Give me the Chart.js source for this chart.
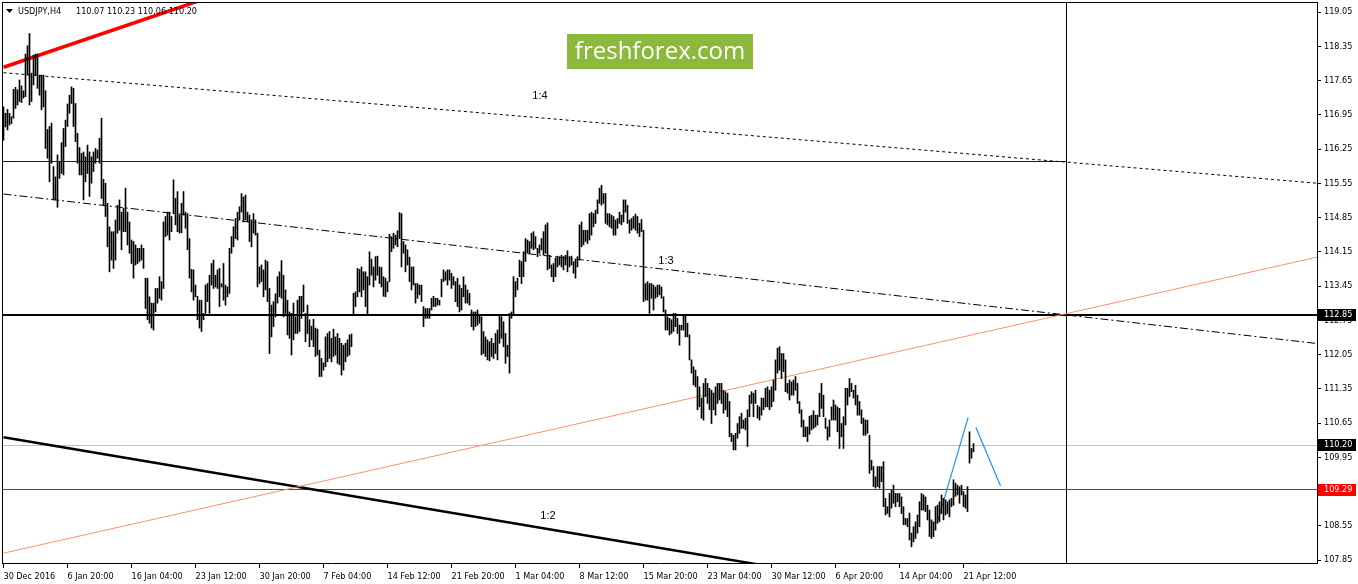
<!DOCTYPE html>
<html>
<head>
<meta charset="utf-8">
<script src="https://cdn.jsdelivr.net/npm/chart.js@4.4.1/dist/chart.umd.min.js"></script>
<style>
html,body{margin:0;padding:0;background:#fff;overflow:hidden;}
canvas{display:block;}
</style>
</head>
<body>
<canvas id="c" width="1358" height="584"></canvas>
<script>
// ---------- DATA ----------
const symbolTitle = 'USDJPY,H4';
const lastOHLC = ['110.07', '110.23', '110.06', '110.20'];

const highs = [
117.11,116.98,117.06,116.98,116.91,117.47,117.51,117.46,117.66,117.54,
117.44,118.19,118.36,118.61,117.80,118.17,118.19,118.19,117.76,117.76,
117.76,117.44,116.65,116.71,116.78,115.89,115.68,116.13,115.99,116.38,
116.67,116.84,117.17,117.35,117.52,117.49,117.18,116.57,116.28,116.16,
116.19,116.09,116.33,116.19,116.09,116.19,116.26,116.23,116.47,116.88,
115.63,115.55,115.14,114.66,114.56,114.56,114.80,115.10,115.21,114.96,
115.04,115.45,114.96,114.76,114.39,114.36,114.29,114.22,114.22,114.29,
114.22,113.61,113.61,113.23,113.10,113.10,113.40,113.40,113.64,113.54,
114.76,114.87,114.96,114.96,114.87,115.62,115.24,115.38,114.90,115.14,
115.38,114.96,114.93,114.42,113.79,113.78,113.47,113.24,113.16,113.16,
112.89,113.47,113.50,113.67,113.91,113.98,113.67,113.78,113.81,113.50,
113.91,113.47,113.43,114.22,114.46,114.66,114.83,114.96,115.07,115.34,
115.27,115.31,114.96,114.90,114.80,114.93,114.80,114.53,113.84,113.88,
113.78,113.98,113.95,113.40,113.06,113.13,113.29,113.64,113.74,113.97,
113.67,113.37,113.16,112.92,112.89,113.10,112.82,113.16,113.24,113.24,
113.47,112.89,113.06,112.76,112.63,112.77,112.59,112.57,112.14,111.97,
111.88,112.41,112.48,112.52,112.38,112.57,112.41,112.48,112.38,112.28,
112.24,112.28,112.35,112.45,112.47,113.30,113.33,113.81,113.79,113.84,
113.74,113.74,113.64,114.15,114.00,113.84,114.05,114.06,113.84,113.83,
113.64,113.61,113.54,114.51,114.46,114.53,114.49,114.58,114.95,114.93,
114.36,114.29,114.19,114.04,113.84,113.84,113.50,113.50,113.47,113.47,
113.03,112.99,112.99,112.99,113.20,113.24,113.20,113.20,113.16,113.59,
113.78,113.74,113.78,113.78,113.71,113.64,113.54,113.61,113.47,113.40,
113.64,113.47,113.37,113.30,112.96,112.92,112.92,112.96,112.86,112.82,
112.52,112.41,112.35,112.31,112.38,112.28,112.48,112.55,112.86,112.82,
112.72,112.48,112.24,112.89,112.92,113.64,113.54,113.61,113.98,113.95,
114.15,114.42,114.39,114.36,114.53,114.56,114.46,114.22,114.29,114.42,
114.56,114.70,114.74,114.08,113.88,113.91,114.02,114.06,114.05,114.08,
114.05,114.08,114.17,114.05,114.06,113.95,114.00,114.05,114.70,114.76,
114.59,114.59,114.59,114.93,114.96,114.93,115.00,115.21,115.45,115.51,
115.34,115.34,114.93,114.93,114.90,114.87,114.80,114.83,114.96,114.90,
115.21,115.21,115.10,114.80,114.83,114.87,114.92,114.87,114.73,114.81,
114.59,113.50,113.54,113.50,113.50,113.47,113.43,113.47,113.47,113.43,
113.23,112.96,112.82,112.79,112.76,112.89,112.89,112.79,112.65,112.65,
112.86,112.86,112.69,112.45,111.94,111.80,111.73,111.60,111.39,111.16,
111.46,111.56,111.46,111.36,111.32,111.26,111.39,111.46,111.46,111.46,
111.32,111.29,111.26,111.09,110.44,110.40,110.44,110.64,110.78,110.85,
110.71,110.75,110.92,111.22,111.29,111.26,111.32,111.01,110.98,111.16,
111.16,111.36,111.39,111.32,111.39,111.53,111.94,112.18,112.21,112.07,
112.07,111.94,111.46,111.53,111.49,111.53,111.60,111.46,111.09,110.92,
110.71,110.57,110.57,110.79,110.81,110.90,110.81,110.81,111.26,111.46,
111.22,110.75,110.57,110.71,110.98,111.12,111.02,110.98,110.95,110.64,
110.78,111.36,111.36,111.56,111.46,111.32,111.42,111.22,111.09,110.92,
110.75,110.71,110.71,110.40,109.89,109.76,109.55,109.76,109.76,109.76,
109.86,109.11,108.94,109.21,109.28,109.38,109.21,109.21,109.21,109.14,
108.94,108.70,108.70,108.81,108.40,108.53,108.63,108.77,109.04,109.21,
109.18,109.14,108.97,108.87,108.67,108.63,108.94,108.97,109.04,109.18,
109.11,109.08,109.04,109.08,109.11,109.49,109.42,109.38,109.35,109.38,
109.25,109.18,109.35,110.47,110.13,110.23
];

const lows = [
116.43,116.70,116.64,116.74,116.77,116.88,117.08,117.15,117.22,117.20,
117.29,117.32,117.76,117.15,117.22,117.56,117.76,117.49,117.35,117.05,
117.11,116.26,116.06,115.58,115.96,115.21,115.21,115.06,115.65,115.75,
115.72,116.30,116.71,116.98,117.18,116.71,116.40,115.96,115.72,115.72,
115.21,115.58,115.75,115.28,115.55,115.79,115.96,116.06,115.96,115.24,
115.11,114.87,114.25,113.74,113.98,113.81,113.98,114.53,114.59,114.19,
114.56,114.56,114.29,114.12,113.91,113.61,113.88,113.91,113.95,113.98,
113.81,112.99,112.76,112.69,112.59,112.55,112.92,113.10,113.20,113.16,
113.40,114.46,114.49,114.39,114.56,114.93,114.70,114.56,114.53,114.54,
114.90,114.63,114.19,113.61,113.33,113.16,113.23,112.76,112.59,112.52,
112.76,112.89,113.13,112.89,113.47,113.40,113.43,113.40,113.03,113.43,
113.16,113.06,113.23,113.30,114.12,114.25,114.42,114.39,114.80,114.96,
114.76,114.80,114.76,114.36,114.25,114.53,114.49,113.43,113.50,113.54,
113.23,113.37,113.13,112.07,112.41,112.62,112.82,113.10,113.23,113.20,
112.82,112.89,112.45,112.38,112.04,112.35,112.48,112.48,112.52,112.79,
112.92,112.31,112.48,112.21,112.35,112.21,112.01,112.04,111.60,111.60,
111.73,111.80,111.90,111.97,111.90,112.01,112.04,111.87,111.84,111.63,
111.73,111.90,112.01,112.04,112.21,112.86,113.03,113.23,113.33,113.23,
113.37,113.03,112.86,113.47,113.67,113.43,113.57,113.67,113.50,113.43,
113.24,113.23,113.33,113.54,114.15,114.22,114.29,114.25,114.42,113.84,
114.12,113.74,113.88,113.54,113.37,113.47,113.10,113.20,113.27,113.13,
112.62,112.79,112.79,112.79,112.96,113.03,113.03,113.06,113.06,113.23,
113.54,113.57,113.47,113.57,113.40,113.47,113.13,113.03,112.92,112.96,
113.23,113.10,113.10,113.06,112.62,112.55,112.62,112.65,112.69,112.04,
112.07,112.01,111.94,111.92,112.01,111.97,112.07,111.94,112.28,112.38,
112.21,111.87,112.01,111.67,112.79,112.86,113.23,113.37,113.64,113.50,
113.64,113.95,114.12,114.12,114.22,114.19,114.22,114.05,114.12,114.19,
114.08,114.12,113.78,113.81,113.64,113.54,113.64,113.84,113.88,113.84,
113.78,113.88,113.74,113.84,113.88,113.71,113.61,113.84,113.98,114.25,
114.29,114.36,114.32,114.39,114.49,114.66,114.73,114.93,115.14,115.10,
115.14,114.73,114.70,114.66,114.63,114.49,114.49,114.63,114.73,114.70,
114.76,114.96,114.73,114.53,114.59,114.63,114.59,114.53,114.46,114.56,
113.13,113.16,113.16,112.89,113.20,112.96,113.20,113.23,113.27,113.20,
112.92,112.55,112.55,112.45,112.48,112.52,112.62,112.48,112.24,112.55,
112.55,112.41,112.41,111.94,111.67,111.43,111.39,110.92,110.98,110.75,
110.71,111.19,111.05,110.92,110.64,110.92,110.81,111.05,111.12,111.05,
110.85,110.92,110.78,110.37,110.27,110.10,110.10,110.34,110.44,110.54,
110.54,110.51,110.17,110.78,111.05,110.78,111.05,110.75,110.71,110.81,
110.92,110.98,110.98,110.92,110.98,111.09,111.32,111.67,111.73,111.56,
111.70,111.29,111.26,111.12,111.22,111.22,111.32,111.05,110.85,110.57,
110.37,110.37,110.27,110.42,110.51,110.54,110.57,110.61,110.78,110.95,
110.78,110.54,110.30,110.37,110.71,110.71,110.71,110.47,110.13,110.37,
110.13,110.61,111.02,111.19,111.29,111.16,111.02,110.81,110.81,110.64,
110.40,110.40,110.44,109.62,109.69,109.35,109.32,109.35,109.32,109.45,
108.94,108.77,108.80,108.73,108.91,109.01,108.94,109.04,108.94,108.80,
108.57,108.57,108.53,108.26,108.12,108.22,108.29,108.40,108.53,108.87,
108.87,108.84,108.67,108.33,108.29,108.33,108.46,108.60,108.63,108.80,
108.67,108.77,108.80,108.73,108.94,108.97,109.15,109.18,109.01,109.18,
108.94,108.91,108.84,109.83,109.93,110.06
];

const tickBars = [0,32,64,96,128,160,192,224,256,288,320,352,384,416,448,480];
const tickLabels = ['30 Dec 2016','6 Jan 20:00','16 Jan 04:00','23 Jan 12:00','30 Jan 20:00',
  '7 Feb 04:00','14 Feb 12:00','21 Feb 20:00','1 Mar 04:00','8 Mar 12:00','15 Mar 20:00',
  '23 Mar 04:00','30 Mar 12:00','6 Apr 20:00','14 Apr 04:00','21 Apr 12:00'];
const priceTicks = [107.85,108.55,109.25,109.95,110.65,111.35,112.05,112.75,113.45,
  114.15,114.85,115.55,116.25,116.95,117.65,118.35,119.05];

// trend lines: [bar index, price] endpoints
const line14 = [[0, 117.81], [660, 115.54]];
const line13 = [[0, 115.33], [660, 112.26]];
const lineSalmon = [[0, 107.99], [660, 114.07]];
const line12 = [[0, 110.36], [380, 107.74]];
const lineRed = [[0, 117.92], [100, 119.31]];
const waveUp = [[466.8, 108.61], [482.3, 110.76]];
const waveDown = [[486.2, 110.56], [498.5, 109.37]];

// horizontal levels
const levelMain = 112.85;
const levelBid = 110.20;
const levelRed = 109.29;
const levelBlue = 115.99;
const markerBar = 531.25;   // vertical line (also end of blue level)

const labels14 = ['1:4', '1:3', '1:2'];
const labelBars = [268.25, 331.25, 272.25];
const labelPrices = [117.33, 113.96, 108.75];

// ---------- CHART ----------
const FONT = '"DejaVu Sans Condensed", "Liberation Sans", Arial, sans-serif';
Chart.defaults.font.family = FONT;
Chart.defaults.font.size = 9;
Chart.defaults.color = '#000';

const barData = highs.map((h, i) => ({x: i, y: [lows[i], h]}));
const toXY = seg => seg.map(p => ({x: p[0], y: p[1]}));

function lineDs(seg, color, width, dash) {
  return {type: 'line', data: toXY(seg), borderColor: color, borderWidth: width,
    borderDash: dash || [], pointRadius: 0, tension: 0, fill: false, order: 1};
}

const overlay = {
  id: 'overlay',
  beforeDatasetsDraw(chart) {
    const {ctx, chartArea: a, scales: {x, y}} = chart;
    ctx.save();
    ctx.beginPath(); ctx.rect(a.left, a.top, a.right - a.left, a.bottom - a.top); ctx.clip();
    const vx = Math.floor(x.getPixelForValue(markerBar));
    ctx.fillStyle = '#0000ff';
    ctx.fillRect(a.left, Math.floor(y.getPixelForValue(levelBlue)), vx - a.left, 1);
    ctx.fillStyle = '#c0c0c0';
    ctx.fillRect(a.left, Math.floor(y.getPixelForValue(levelBid)), a.right - a.left, 1);
    ctx.fillStyle = '#ff0000';
    ctx.fillRect(a.left, Math.floor(y.getPixelForValue(levelRed)), a.right - a.left, 1);
    ctx.fillStyle = '#000';
    ctx.fillRect(a.left, Math.round(y.getPixelForValue(levelMain)) - 1, a.right - a.left, 2);
    ctx.fillRect(vx, a.top, 1, a.bottom - a.top);
    ctx.restore();
  },
  afterDraw(chart) {
    const {ctx, chartArea: a, scales: {x, y}} = chart;
    ctx.save();
    ctx.fillStyle = '#000';
    ctx.fillRect(a.left - 1, a.top - 1, a.right - a.left + 2, 1);
    ctx.fillRect(a.left - 1, a.top - 1, 1, a.bottom - a.top + 2);
    ctx.font = '11px "Liberation Sans", Arial, sans-serif';
    ctx.textAlign = 'center'; ctx.textBaseline = 'middle';
    labels14.forEach((t, i) => {
      ctx.fillText(t, x.getPixelForValue(labelBars[i]), y.getPixelForValue(labelPrices[i]));
    });
    ctx.beginPath(); ctx.moveTo(6, 9); ctx.lineTo(13, 9); ctx.lineTo(9.5, 13); ctx.closePath(); ctx.fill();
    ctx.font = '9px ' + FONT;
    ctx.textAlign = 'left'; ctx.textBaseline = 'alphabetic';
    ctx.fillText(symbolTitle, 18, 14);
    ctx.fillText(lastOHLC.join(' '), 76, 14);
    ctx.fillStyle = '#8cb83c';
    ctx.fillRect(567, 34, 186, 35);
    ctx.fillStyle = '#fff';
    ctx.font = '24px "Open Sans", sans-serif';
    ctx.textAlign = 'center';
    ctx.fillText('freshforex.com', 660, 59);
    ctx.font = '9px ' + FONT;
    ctx.textAlign = 'left'; ctx.textBaseline = 'middle';
    [[levelMain, '#000'], [levelBid, '#000'], [levelRed, '#ff0000']].forEach(([v, c]) => {
      const py = Math.round(y.getPixelForValue(v));
      ctx.fillStyle = c;
      ctx.fillRect(a.right + 1, py - 6, 38, 12);
      ctx.fillStyle = '#fff';
      ctx.fillText(v.toFixed(2), a.right + 7, py);
    });
    ctx.restore();
  }
};

new Chart(document.getElementById('c'), {
  type: 'bar',
  data: {
    datasets: [
      {type: 'bar', data: barData, backgroundColor: '#000', borderWidth: 0,
        barThickness: 1, grouped: false, order: 0},
      lineDs(lineSalmon, '#f8916d', 1),
      lineDs(line14, '#000', 1, [3, 3]),
      lineDs(line13, '#000', 1, [8, 3, 2, 3]),
      lineDs(line12, '#000', 2.5),
      lineDs(lineRed, '#ff0000', 3.5),
      lineDs(waveUp, '#1e90ff', 1.2),
      lineDs(waveDown, '#1e90ff', 1.2)
    ]
  },
  options: {
    responsive: false,
    animation: false,
    devicePixelRatio: 1,
    layout: {padding: {left: 3, top: 3, right: 0, bottom: 0}},
    plugins: {legend: {display: false}, tooltip: {enabled: false}},
    scales: {
      x: {
        type: 'linear', position: 'bottom', min: -0.25, max: 656.75, offset: false,
        grid: {display: true, drawOnChartArea: false, drawTicks: true, tickLength: 5, color: '#000', offset: false},
        border: {display: true, color: '#000', width: 1},
        ticks: {align: 'start', autoSkip: false, maxRotation: 0, padding: 3, color: '#000',
          callback: (v, i) => tickLabels[i]},
        afterBuildTicks: s => { s.ticks = tickBars.map(v => ({value: v})); },
        afterFit: s => { s.height = 21; s.paddingLeft = 0; s.paddingRight = 0; }
      },
      y: {
        type: 'linear', position: 'right', min: 107.789, max: 119.234, beginAtZero: false,
        grid: {display: true, drawOnChartArea: false, drawTicks: true, tickLength: 4, color: '#000'},
        border: {display: true, color: '#000', width: 1},
        ticks: {padding: 3, color: '#000', autoSkip: false, callback: v => Number(v).toFixed(2)},
        afterBuildTicks: s => { s.ticks = priceTicks.map(v => ({value: v})); },
        afterFit: s => { s.width = 41; s.paddingTop = 0; s.paddingBottom = 0; }
      }
    }
  },
  plugins: [overlay]
});
</script>
</body>
</html>
